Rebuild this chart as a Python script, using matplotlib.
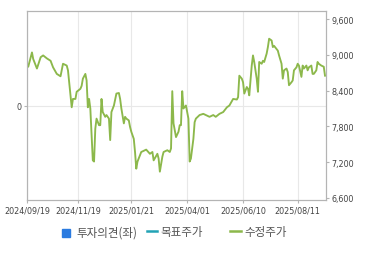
import numpy as np
import matplotlib
matplotlib.use("Agg")
import matplotlib.pyplot as plt
from matplotlib.lines import Line2D
from matplotlib.patches import Rectangle

plt.rcParams['font.family'] = ['Noto Sans CJK KR', 'DejaVu Sans']

# trading-day index and adjusted close (수정주가)
day = [0, 1, 4, 5, 8, 11, 13, 16, 19, 21, 24, 27, 29, 32, 33, 35, 36, 37, 39, 40,
       43, 44, 45, 47, 48, 49, 50, 51, 53, 54, 55, 56, 58, 59, 60, 61, 63, 64, 66, 67,
       68, 70, 72, 74, 75, 76, 78, 79, 80, 82, 83, 84, 86, 87, 88, 89, 91, 92, 95, 96,
       99, 101, 102, 105, 106, 107, 109, 110, 113, 115, 116, 117, 118, 120, 122, 123, 124, 125, 126, 128,
       129, 130, 131, 132, 134, 135, 136, 139, 142, 144, 147, 150, 152, 155, 158, 161, 163, 166, 169, 170,
       171, 173, 174, 175, 177, 178, 179, 181, 182, 183, 185, 186, 187, 189, 190, 191, 193, 194, 195, 197,
       198, 199, 202, 203, 205, 206, 207, 209, 210, 211, 213, 214, 215, 217, 218, 219, 221, 222, 223, 225,
       226, 227, 229, 230, 231, 233, 234, 235, 237, 239, 240]
price = [8850, 8800, 9040, 8930, 8770, 8960, 8990, 8940, 8900, 8790, 8680, 8640, 8850, 8820, 8740, 8320, 8120, 8260, 8260, 8380,
         8430, 8480, 8600, 8680, 8570, 8120, 8260, 8100, 7230, 7210, 7760, 7930, 7820, 7820, 8260, 8040, 7960, 7990, 7930, 7570,
         8040, 8150, 8350, 8360, 8260, 8100, 7850, 7960, 7930, 7900, 7790, 7710, 7590, 7370, 7090, 7210, 7320, 7370, 7400, 7410,
         7340, 7370, 7230, 7340, 7260, 7040, 7290, 7370, 7400, 7370, 7430, 8390, 7850, 7620, 7710, 7820, 7820, 8390, 8100, 8150,
         8040, 7930, 7210, 7260, 7590, 7870, 7930, 7990, 8010, 7990, 7960, 7990, 7960, 8010, 8040, 8120, 8150, 8260, 8250, 8290,
         8650, 8600, 8540, 8350, 8460, 8430, 8320, 8820, 8990, 8880, 8600, 8380, 8880, 8850, 8900, 8880, 9020, 9130, 9270, 9240,
         9130, 9150, 9070, 8990, 8850, 8600, 8740, 8770, 8710, 8490, 8540, 8570, 8740, 8790, 8850, 8820, 8630, 8820, 8770, 8820,
         8740, 8790, 8820, 8680, 8680, 8740, 8880, 8850, 8820, 8800, 8650]

tick_days = [0, 41, 84, 129, 174, 218]
tick_labels = ["2024/09/19", "2024/11/19", "2025/01/21", "2025/04/01", "2025/06/10", "2025/08/11"]
right_ticks = [6600, 7200, 7800, 8400, 9000, 9600]

GREY = "#b4b4b4"
TXT = "#444444"

fig = plt.figure(figsize=(3.70, 2.55), dpi=100)
ax = fig.add_axes([27 / 370, 1 - 201 / 255, 299 / 370, 189 / 255])
ax2 = ax.twinx()

# left axis: 투자의견 (no data, only the 0 line)
ax.set_ylim(-1, 1)
ax.set_yticks([0])
ax.set_yticklabels(["0"])
ax.set_xlim(0, 240.8)
ax.set_xticks(tick_days)
ax.set_xticklabels(tick_labels)
ax.grid(True, color="#e8e8e8", linewidth=0.8)
ax.set_axisbelow(True)

ax2.plot(day, price, color="#8cb84b", linewidth=1.35)
ax2.set_ylim(6565, 9735)
ax2.set_yticks(right_ticks)
ax2.set_yticklabels([f"{v:,}" for v in right_ticks])

for a in (ax, ax2):
    for s in a.spines.values():
        s.set_color(GREY)
        s.set_linewidth(0.8)
    a.tick_params(colors=GREY, labelcolor=TXT, labelsize=5.8, length=2.5, width=0.8, pad=1.5)
    for lab in a.get_xticklabels() + a.get_yticklabels():
        lab.set_family("DejaVu Sans")

# legend drawn by hand
fig.patches.append(Rectangle((62 / 370, 1 - 238 / 255), 8 / 370, 8 / 255,
                             transform=fig.transFigure, color="#2b7be0"))
fig.text(76 / 370, 1 - 233 / 255, "투자의견(좌)", fontsize=8.3, color="#555555", va="center")
fig.lines.append(Line2D([147 / 370, 157 / 370], [1 - 232 / 255] * 2, transform=fig.transFigure,
                        color="#22a3b5", linewidth=1.8))
fig.text(160 / 370, 1 - 233 / 255, "목표주가", fontsize=8.3, color="#555555", va="center")
fig.lines.append(Line2D([230 / 370, 241 / 370], [1 - 232 / 255] * 2, transform=fig.transFigure,
                        color="#8cb84b", linewidth=1.8))
fig.text(244 / 370, 1 - 233 / 255, "수정주가", fontsize=8.3, color="#555555", va="center")

fig.savefig("out.png", dpi=100)
